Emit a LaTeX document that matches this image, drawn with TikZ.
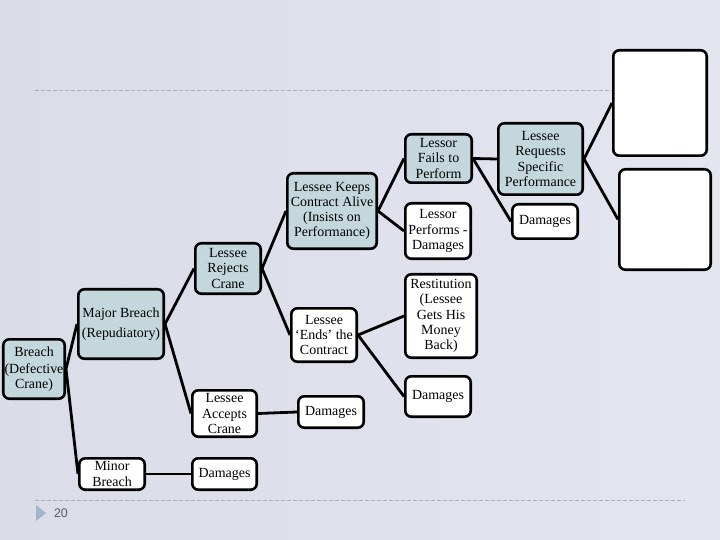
\documentclass[tikz,border=0pt]{standalone}
\usepackage{fontspec}
\setmainfont{Liberation Serif}
\newfontfamily\numfont{Liberation Sans}
\definecolor{boxblue}{RGB}{196,215,221}
\definecolor{bgleft}{RGB}{218,221,232}
\definecolor{bgmid}{RGB}{205,209,224}
\definecolor{bgright}{RGB}{227,230,239}
\definecolor{rulegrey}{RGB}{168,174,190}
\definecolor{markblue}{RGB}{160,182,204}
\begin{document}
\begin{tikzpicture}[x=1bp, y=-1bp,
		box/.style={draw, line width=2.6bp, rounded corners=6bp, fill=white, align=center,
			inner sep=1bp, font=\fontsize{14}{15.2}\selectfont},
		bluebox/.style={box, fill=boxblue},
		link/.style={line width=2.8bp}]
	% slide background
	\fill[left color=bgleft, middle color=bgmid, right color=bgright] (0,0) rectangle (720,540);
	\useasboundingbox (0,0) rectangle (720,540);
	\draw[rulegrey, line width=0.8bp, dash pattern=on 4bp off 2bp] (35,90)--(685,90);
	\draw[rulegrey, line width=0.8bp, dash pattern=on 4bp off 2bp] (35,500)--(685,500);
	\fill[markblue] (36,505)--(46,513)--(36,521)--cycle;
	\node[text=black!65, font=\numfont\fontsize{12.5}{14}\selectfont] (slidenum) at (61,513) {20};
	% first level
	\node[bluebox, minimum width=61.4bp, minimum height=59.4bp] (breach) at (34,369) {Breach\\[2bp](Defective\\Crane)};
	\node[bluebox, minimum width=85.4bp, minimum height=69.4bp] (major) at (121,324) {Major Breach\\[5bp](Repudiatory)};
	\node[box, minimum width=65.4bp, minimum height=31.4bp] (minor) at (112,474) {Minor\\Breach};
	% second level
	\node[bluebox, minimum width=65.4bp, minimum height=50.4bp] (rejects) at (228,268.5) {Lessee\\Rejects\\Crane};
	\node[box, minimum width=64.4bp, minimum height=46.4bp] (accepts) at (224.5,413.5) {Lessee\\Accepts\\Crane};
	\node[box, minimum width=64.4bp, minimum height=31.4bp] (dmgminor) at (224.5,474) {Damages};
	% third level
	\node[bluebox, minimum width=89.4bp, minimum height=75.4bp] (keeps) at (332,211) {Lessee Keeps\\Contract Alive\\(Insists on\\Performance)};
	\node[box, minimum width=65.4bp, minimum height=53.4bp] (ends) at (324,335) {Lessee\\`Ends' the\\Contract};
	\node[box, minimum width=65.4bp, minimum height=31.4bp] (dmgaccepts) at (331,412) {Damages};
	% fourth level
	\node[bluebox, minimum width=66.4bp, minimum height=48.4bp] (fails) at (438.5,158.5) {Lessor\\Fails to\\Perform};
	\node[box, minimum width=65.4bp, minimum height=55.4bp] (performs) at (438,231) {Lessor\\Performs -\\Damages};
	\node[box, minimum width=71.4bp, minimum height=83.4bp] (restitution) at (441,316) {Restitution\\(Lessee\\Gets His\\Money\\Back)};
	\node[box, minimum width=65.4bp, minimum height=40.4bp] (dmgends) at (438,396.5) {Damages};
	% fifth level
	\node[bluebox, minimum width=84.4bp, minimum height=71.4bp] (requests) at (540.5,159) {Lessee\\Requests\\Specific\\Performance};
	\node[box, minimum width=65.4bp, minimum height=34.4bp] (dmgfails) at (545,221.5) {Damages};
	\node[box, minimum width=93.4bp, minimum height=105.4bp] (blankup) at (660,103) {};
	\node[box, minimum width=91.4bp, minimum height=100.4bp] (blankdown) at (665,219.5) {};
	% connectors
	\draw[link] (breach.east)--(major.west);
	\draw[link] (breach.east)--(minor.west);
	\draw[link] (major.east)--(rejects.west);
	\draw[link] (major.east)--(accepts.west);
	\draw[link] (minor.east)--(dmgminor.west);
	\draw[link] (rejects.east)--(keeps.west);
	\draw[link] (rejects.east)--(ends.west);
	\draw[link] (accepts.east)--(dmgaccepts.west);
	\draw[link] (keeps.east)--(fails.west);
	\draw[link] (keeps.east)--(performs.west);
	\draw[link] (ends.east)--(restitution.west);
	\draw[link] (ends.east)--(dmgends.west);
	\draw[link] (fails.east)--(requests.west);
	\draw[link] (fails.east)--(dmgfails.west);
	\draw[link] (requests.east)--(blankup.west);
	\draw[link] (requests.east)--(blankdown.west);
\end{tikzpicture}
\end{document}
